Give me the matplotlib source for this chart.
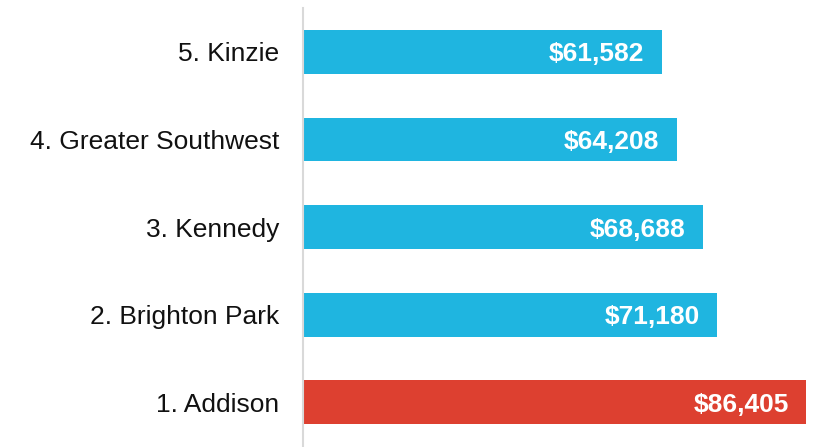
import matplotlib
matplotlib.use("Agg")
import matplotlib.pyplot as plt

# data (bottom to top)
labels = ["1. Addison", "2. Brighton Park", "3. Kennedy", "4. Greater Southwest", "5. Kinzie"]
values = [86405, 71180, 68688, 64208, 61582]
colors = ["#DD4030", "#1FB5E0", "#1FB5E0", "#1FB5E0", "#1FB5E0"]

plt.rcParams['font.family'] = ['Liberation Sans', 'DejaVu Sans']

fig = plt.figure(figsize=(8.2, 4.47), dpi=100)
ax = fig.add_axes([303 / 820, 0, 517 / 820, 439 / 447])

y = list(range(len(labels)))
ax.barh(y, values, height=0.5, color=colors)

# value labels inside the bars
for yi, v in zip(y, values):
    ax.annotate(f"${v:,}", xy=(v, yi), xytext=(-12.5, 0), textcoords="offset points",
                ha="right", va="center_baseline", color="white", fontsize=19, fontweight="bold")

ax.set_yticks(y)
ax.set_yticklabels(labels, fontsize=19, color="#111111")
ax.tick_params(axis="y", length=0, pad=17)
ax.set_xticks([])
ax.set_xlim(0, 88800)
ax.set_ylim(-0.51, 4.5)

for side in ["top", "right", "bottom"]:
    ax.spines[side].set_visible(False)
ax.spines["left"].set_color("#d9d9d9")
ax.spines["left"].set_linewidth(1.5)

fig.savefig("out.png", dpi=100)
